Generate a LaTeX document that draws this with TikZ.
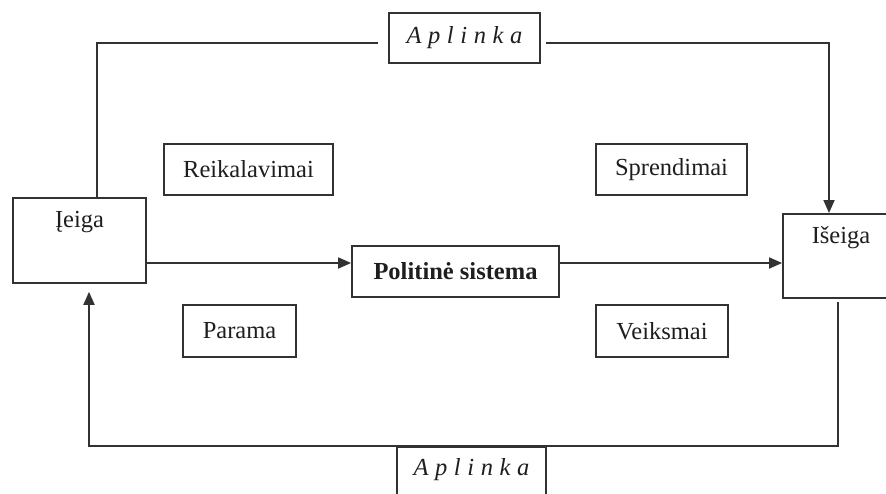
\documentclass[tikz,border=0pt]{standalone}
\usepackage{fontspec}
\setmainfont{Liberation Serif}
\usepackage{tikz}
\usetikzlibrary{arrows.meta,positioning,calc}
\definecolor{lngray}{RGB}{50,50,50}
\definecolor{txgray}{RGB}{30,30,30}

\begin{document}
\begin{tikzpicture}[x=1pt,y=-1pt,
    font=\fontsize{24.5}{29}\selectfont,text=txgray,
    box/.style={draw=lngray,line width=1.8pt,inner sep=0pt,align=center},
    conn/.style={draw=lngray,line width=1.8pt},
    arr/.style={conn,-{Triangle[length=13pt,width=11pt]}},
    spaced/.style={font=\fontsize{24.5}{29}\selectfont\itshape\addfontfeature{LetterSpace=27}}]
  \useasboundingbox (0,0) rectangle (886,493);
  \clip (0,0) rectangle (886,493);
  % Input and output blocks
  \node[box,minimum width=133pt,text height=30pt,text depth=55pt]
    (ieiga) at (79.5,197) [anchor=north] {Įeiga};
  \node[box,minimum width=116pt,text height=30pt,text depth=54pt]
    (iseiga) at (841,213) [anchor=north] {Išeiga};
  % Political system
  \node[box,minimum width=207pt,minimum height=51pt,font=\fontsize{24.5}{29}\selectfont\bfseries]
    (polit) at (455.5,271.5) {Politinė sistema};
  % Demands / support, decisions / actions
  \node[box,minimum width=169pt,minimum height=51pt] (reik)   at (248.5,169.5) {Reikalavimai};
  \node[box,minimum width=151pt,minimum height=51pt] (sprend) at (671.5,169.5) {Sprendimai};
  \node[box,minimum width=113pt,minimum height=52pt] (parama) at (239.5,331)   {Parama};
  \node[box,minimum width=132pt,minimum height=52pt] (veiks)  at (662,331)     {Veiksmai};
  % Environment
  \node[box,spaced,minimum width=151pt,minimum height=50pt] (aplTop) at (464.5,38) {Aplinka};
  \node[box,spaced,minimum width=149pt,text height=29pt,text depth=46pt]
    (aplBot) at (471.5,446) [anchor=north] {Aplinka};
  % Main flow
  \coordinate (midline) at (0,263);
  \draw[arr] (ieiga.east |- midline) -- (polit.west |- midline);
  \draw[arr] (polit.east |- midline) -- (iseiga.west |- midline);
  % Top loop
  \draw[conn] ([xshift=17.5pt]ieiga.north) |- ([shift={(-10pt,-5pt)}]aplTop.west);
  \draw[arr] ([shift={(5pt,-5pt)}]aplTop.east) -| ([xshift=-12pt]iseiga.north);
  % Feedback loop
  \draw[arr,shorten <=3pt,shorten >=8pt]
    ([xshift=-3pt]iseiga.south) |- (aplBot.north) -| ([xshift=9.5pt]ieiga.south);
\end{tikzpicture}
\end{document}
